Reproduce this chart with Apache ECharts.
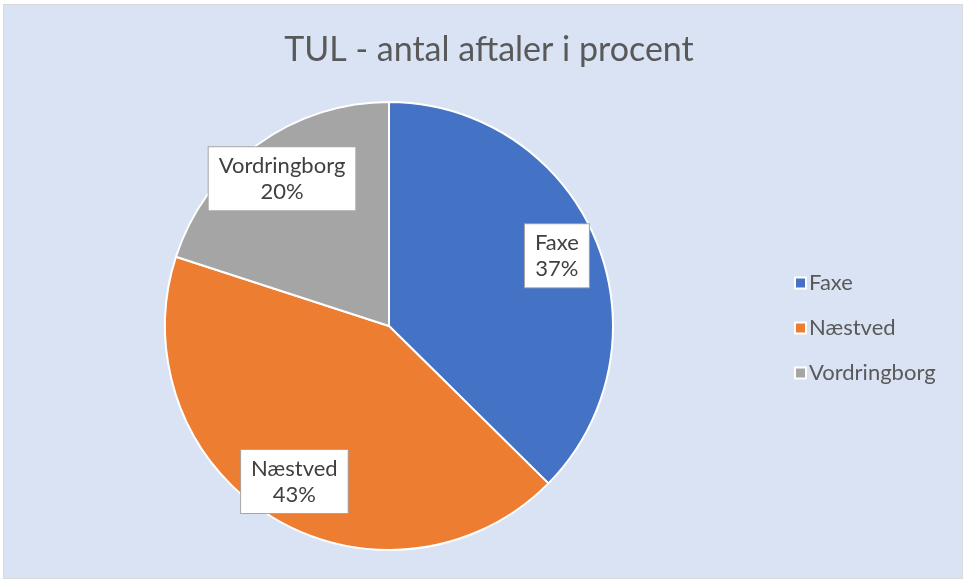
<!DOCTYPE html>
<html lang="da">
  <head>
    <meta charset="UTF-8" />
    <title>TUL - antal aftaler i procent</title>
    <script src="https://cdnjs.cloudflare.com/ajax/libs/echarts/6.0.0/echarts.min.js"></script>
    <style>
      html,
      body {
        margin: 0;
        padding: 0;
        background: #ffffff;
      }
      .frame {
        position: absolute;
        left: 3px;
        top: 4px;
        width: 958px;
        height: 573px;
        background: #dae3f3;
        border: 1px solid #d9d9d9;
      }
      #chart {
        position: absolute;
        left: 0;
        top: 0;
        width: 963px;
        height: 581px;
      }
    </style>
  </head>
  <body>
    <div class="frame"></div>
    <div id="chart"></div>
    <script type="text/javascript">
      // data (percent shares; labels round them)
      const categories = ["Faxe", "Næstved", "Vordringborg"];
      const values = [37.4, 42.6, 20];
      const colors = ["#4472C4", "#ED7D31", "#A5A5A5"];

      const pieData = categories.map((name, i) => ({ name: name, value: values[i] }));

      const myChart = echarts.init(document.getElementById("chart"));
      const font = "Lato, 'Open Sans', sans-serif";

      const options = {
        backgroundColor: "transparent",
        color: colors,
        animation: false,
        title: {
          text: "TUL - antal aftaler i procent",
          left: 484,
          textAlign: "center",
          top: 28,
          textStyle: {
            color: "#595959",
            fontFamily: font,
            fontSize: 34,
            fontWeight: "normal",
          },
        },
        legend: {
          orient: "vertical",
          left: 789,
          top: 267,
          itemWidth: 11,
          itemHeight: 11,
          itemGap: 23,
          icon: "rect",
          selectedMode: false,
          itemStyle: { borderColor: "#ffffff", borderWidth: 2 },
          textStyle: {
            color: "#595959",
            fontFamily: font,
            fontSize: 22,
            padding: [0, 0, 0, -2],
          },
          data: categories,
        },
        series: [
          // pie itself
          {
            type: "pie",
            center: [389, 326],
            radius: [0, 224],
            startAngle: 90,
            silent: true,
            itemStyle: { borderColor: "#ffffff", borderWidth: 2 },
            label: { show: false },
            labelLine: { show: false },
            data: pieData,
          },
          // label carrier: transparent ring so inside labels sit at ~0.8 radius
          {
            type: "pie",
            center: [389, 326],
            radius: [134, 224],
            startAngle: 90,
            percentPrecision: 0,
            silent: true,
            legendHoverLink: false,
            itemStyle: { color: "transparent", borderWidth: 0 },
            label: {
              show: true,
              position: "inside",
              formatter: "{b}\n{d}%",
              color: "#404040",
              fontFamily: font,
              fontSize: 22,
              lineHeight: 26,
              backgroundColor: "#ffffff",
              borderColor: "#A6A6A6",
              borderWidth: 1,
              padding: [7, 10, 4, 10],
            },
            labelLine: { show: false },
            data: pieData,
          },
        ],
      };
      myChart.setOption(options);
    </script>
  </body>
</html>
